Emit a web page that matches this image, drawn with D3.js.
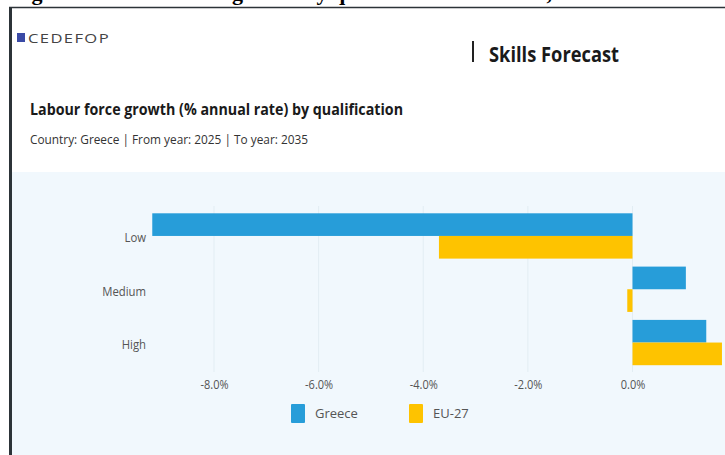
<!DOCTYPE html>
<html>
<head>
<meta charset="utf-8">
<script src="https://cdn.jsdelivr.net/npm/d3@7"></script>
<style>
  body { margin: 0; background: #fff; }
  svg { display: block; font-family: "Open Sans", "Noto Sans", sans-serif; }
</style>
</head>
<body>
<svg id="chart"></svg>
<script>
// data
const categories = ["Low", "Medium", "High"];
const seriesNames = ["Greece", "EU-27"];
const greece = [-9.18, 1.02, 1.41];
const eu27 = [-3.70, -0.10, 1.71];
const tickValues = [-8, -6, -4, -2, 0];
const colors = ["#279dd9", "#fec300"];

const W = 725, H = 455;
const svg = d3.select("#chart").attr("width", W).attr("height", H);

// long format
const data = [];
categories.forEach((c, i) => {
  data.push({ cat: c, series: seriesNames[0], value: greece[i] });
  data.push({ cat: c, series: seriesNames[1], value: eu27[i] });
});

// squeeze a text to a share of its natural width (narrow look of the original)
function narrow(sel, k) {
  sel.each(function() {
    const w = this.getComputedTextLength();
    this.setAttribute("textLength", w * k);
    this.setAttribute("lengthAdjust", "spacingAndGlyphs");
  });
}

// page frame (document crop) - caption of the page is cut by the top edge
svg.append("text")
  .attr("x", 12).attr("y", 0)
  .attr("font-family", "Liberation Serif, serif")
  .attr("font-weight", "bold")
  .attr("font-size", 22)
  .attr("fill", "#000")
  .text("Figure 3: Labour force growth by qualification in Greece, 2025-2035");

svg.append("rect").attr("x", 0).attr("y", 7).attr("width", W).attr("height", H)
  .attr("fill", "#fff");
svg.append("line").attr("x1", 9).attr("x2", W).attr("y1", 7.5).attr("y2", 7.5)
  .attr("stroke", "#2c3338").attr("stroke-width", 1.5);
svg.append("rect").attr("x", 9).attr("y", 7).attr("width", 3).attr("height", H)
  .attr("fill", "#2c3338");

// chart panel
svg.append("rect").attr("x", 12).attr("y", 172).attr("width", W - 12).attr("height", H - 172)
  .attr("fill", "#f1f8fd");

// header
svg.append("rect").attr("x", 17).attr("y", 33).attr("width", 8).attr("height", 9)
  .attr("fill", "#3a4aa6");
svg.append("text").attr("x", 28).attr("y", 42.5)
  .attr("font-size", 12).attr("fill", "#444")
  .attr("textLength", 82).attr("lengthAdjust", "spacingAndGlyphs")
  .attr("letter-spacing", 1)
  .text("CEDEFOP");

svg.append("rect").attr("x", 472).attr("y", 41).attr("width", 2).attr("height", 21)
  .attr("fill", "#222");
svg.append("text").attr("x", 489).attr("y", 61.5)
  .attr("font-size", 21).attr("font-weight", "bold").attr("fill", "#1a1a1a")
  .attr("textLength", 130).attr("lengthAdjust", "spacingAndGlyphs")
  .text("Skills Forecast");

svg.append("text").attr("x", 30).attr("y", 115)
  .attr("font-size", 16).attr("font-weight", "bold").attr("fill", "#1a1a1a")
  .attr("textLength", 373).attr("lengthAdjust", "spacingAndGlyphs")
  .text("Labour force growth (% annual rate) by qualification");
svg.append("text").attr("x", 30).attr("y", 143.5)
  .attr("font-size", 13).attr("fill", "#333")
  .attr("textLength", 278).attr("lengthAdjust", "spacingAndGlyphs")
  .text("Country: Greece | From year: 2025 | To year: 2035");

// scales
const x = d3.scaleLinear().domain([-8, 0]).range([214, 632.5]);

const y0 = d3.scaleBand()
  .domain(categories)
  .range([213.3, 365.2])
  .paddingInner(0.15)
  .paddingOuter(0);

const y1 = d3.scaleBand()
  .domain(seriesNames)
  .range([0, y0.bandwidth()])
  .padding(0);

const color = d3.scaleOrdinal().domain(seriesNames).range(colors);

// gridlines
svg.append("g")
  .selectAll("line.grid")
  .data(tickValues)
  .enter()
  .append("line")
    .attr("class", "grid")
    .attr("x1", d => x(d)).attr("x2", d => x(d))
    .attr("y1", 206).attr("y2", 372)
    .attr("stroke", "#e2edf3").attr("stroke-width", 1);

// bars
svg.append("g")
  .selectAll("rect.bar")
  .data(data)
  .enter()
  .append("rect")
    .attr("class", "bar")
    .attr("x", d => x(Math.min(0, d.value)))
    .attr("y", d => y0(d.cat) + y1(d.series))
    .attr("width", d => Math.abs(x(d.value) - x(0)))
    .attr("height", y1.bandwidth())
    .attr("fill", d => color(d.series));

// x axis
const xAxis = d3.axisBottom(x)
  .tickValues(tickValues)
  .tickSize(0)
  .tickPadding(0)
  .tickFormat(d => d.toFixed(1) + "%");
const gx = svg.append("g")
  .attr("transform", "translate(0,381)")
  .call(xAxis);
gx.select(".domain").remove();
gx.selectAll("text")
  .attr("font-family", "Open Sans, sans-serif")
  .attr("font-size", 12.5)
  .attr("fill", "#555")
  .attr("dy", "0.6em")
  .call(narrow, 0.88);

// y axis
const yAxis = d3.axisLeft(y0).tickSize(0).tickPadding(0);
const gy = svg.append("g")
  .attr("transform", "translate(146,2)")
  .call(yAxis);
gy.select(".domain").remove();
gy.selectAll("text")
  .attr("font-family", "Open Sans, sans-serif")
  .attr("font-size", 13.5)
  .attr("fill", "#555")
  .call(narrow, 0.84);

// legend
const legendX = [291, 409];
const legend = svg.append("g")
  .selectAll("g.legend")
  .data(seriesNames)
  .enter()
  .append("g")
    .attr("class", "legend")
    .attr("transform", (d, i) => `translate(${legendX[i]},404)`);
legend.append("rect")
  .attr("width", 14).attr("height", 19).attr("rx", 1)
  .attr("fill", d => color(d));
legend.append("text")
  .attr("x", 24).attr("y", 14)
  .attr("font-size", 13).attr("fill", "#555")
  .text(d => d);
</script>
</body>
</html>
